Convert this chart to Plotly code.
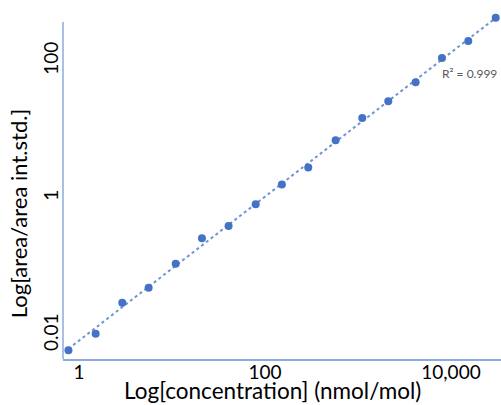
import numpy as np
import plotly.graph_objects as go

# Data (log-log calibration)
concentration = [0.77, 1.51, 2.92, 5.61, 10.96, 21.0, 40.6, 79.4, 152, 292,
                 575, 1112, 2118, 4169, 8000, 15350, 30270]
area_ratio = [0.0060, 0.0104, 0.0296, 0.0491, 0.110, 0.258, 0.390, 0.809, 1.58,
              2.79, 6.95, 14.7, 25.8, 48.9, 110.7, 196, 429]
x_tickvals = [1, 100, 10000]
x_ticktext = ["1", "100", "10,000"]
y_tickvals = [0.01, 1, 100]
y_ticktext = ["0.01", "1", "100"]
x_title = "Log[concentration] (nmol/mol)"
y_title = "Log[area/area int.std.]"
r2_label = "R² = 0.999"

# Power-law trendline (linear fit in log-log space)
lx = np.log10(concentration)
ly = np.log10(area_ratio)
b, a = np.polyfit(lx, ly, 1)
fit_x = np.array([min(concentration), max(concentration)])
fit_y = 10 ** (a + b * np.log10(fit_x))

FONT = "Lato"
AXIS_COLOR = "#8FAADC"
MARK = "#4472C4"

# plot area: 63..501 px wide, 10..359 px tall; visible y-axis line from 22 px
PLOT_TOP, PLOT_BOTTOM, AXIS_TOP = 10, 359, 22
Y_MIN, PX_PER_DEC = -2.35, 68.5
y_max = Y_MIN + (PLOT_BOTTOM - PLOT_TOP) / PX_PER_DEC
axis_frac = (PLOT_BOTTOM - AXIS_TOP) / (PLOT_BOTTOM - PLOT_TOP)

fig = go.Figure()
fig.add_trace(go.Scatter(
    x=fit_x, y=fit_y, mode="lines",
    line=dict(color="#6F93D6", width=2, dash="dot"),
    hoverinfo="skip", showlegend=False))
fig.add_trace(go.Scatter(
    x=concentration, y=area_ratio, mode="markers",
    marker=dict(color=MARK, size=8),
    showlegend=False, cliponaxis=False))

fig.update_layout(
    width=501, height=405,
    margin=dict(l=63, r=0, t=PLOT_TOP, b=405 - PLOT_BOTTOM),
    paper_bgcolor="white", plot_bgcolor="white",
    font=dict(family=FONT, size=19, color="black"),
    xaxis=dict(
        type="log", range=[-0.172, 4.538],
        tickvals=x_tickvals, ticktext=x_ticktext,
        showgrid=False, zeroline=False,
        showline=True, linecolor=AXIS_COLOR, linewidth=1.5,
        ticks="", tickfont=dict(size=19),
    ),
    yaxis=dict(
        type="log", range=[Y_MIN, y_max],
        tickvals=y_tickvals, ticktext=y_ticktext,
        tickangle=-90,
        showgrid=False, zeroline=False, showline=False,
        ticks="", tickfont=dict(size=19),
    ),
    shapes=[dict(type="line", xref="paper", yref="paper",
                 x0=0, x1=0, y0=0, y1=axis_frac,
                 line=dict(color=AXIS_COLOR, width=1.5), layer="above")],
    annotations=[
        dict(text=r2_label, xref="paper", yref="paper",
             x=0.927, y=(PLOT_BOTTOM - 74) / (PLOT_BOTTOM - PLOT_TOP),
             xanchor="center", yanchor="middle",
             showarrow=False, font=dict(size=12, color="#595959", family=FONT)),
        dict(text=x_title, xref="paper", yref="paper",
             x=0.479, y=(PLOT_BOTTOM - 390) / (PLOT_BOTTOM - PLOT_TOP),
             xanchor="center", yanchor="middle",
             showarrow=False, font=dict(size=22.5, color="black", family=FONT)),
        dict(text=y_title, xref="paper", yref="paper", textangle=-90,
             x=-0.1, y=(PLOT_BOTTOM - 214) / (PLOT_BOTTOM - PLOT_TOP),
             xanchor="center", yanchor="middle",
             showarrow=False, font=dict(size=22, color="black", family=FONT)),
    ],
)

try:
    fig.update_xaxes(ticklabelstandoff=-5)
except ValueError:
    pass

fig.write_html(
    "out.html",
    config={"displayModeBar": False},
    post_script="document.body.style.margin='0';document.body.style.overflow='hidden';",
)
